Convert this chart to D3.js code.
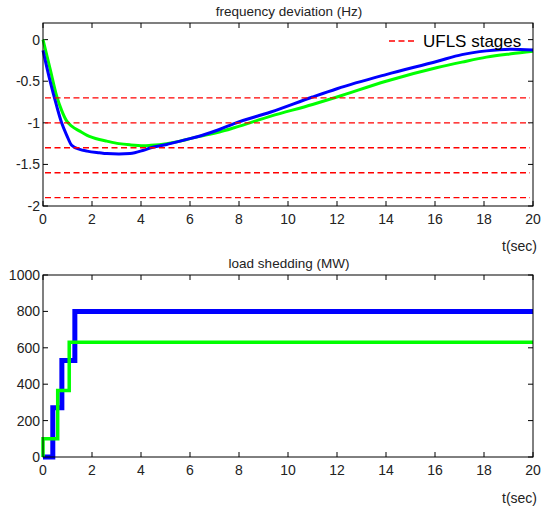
<!DOCTYPE html>
<html>
<head>
<meta charset="utf-8">
<script src="https://cdn.jsdelivr.net/npm/d3@7"></script>
<style>
  body { margin: 0; background: #fff; }
  text { font-family: "Liberation Sans", Arial, sans-serif; fill: #222; }
</style>
</head>
<body>
<div id="chart"></div>
<script>
// frequency deviation (Hz)
const freqTime = [0, 0.29, 0.56, 0.76, 0.97, 1.17, 1.5, 1.8, 2.3, 2.6, 3.1, 3.55, 4.1, 4.4, 5.05, 5.6, 6.0, 6.6, 7.2, 7.8, 9.3, 11.0, 12.0, 14.0, 16.1, 17.1, 18.1, 19.1, 20]
const freqBlue = [-0.13, -0.5, -0.8, -1.0, -1.15, -1.27, -1.32, -1.34, -1.36, -1.37, -1.375, -1.37, -1.33, -1.3, -1.26, -1.22, -1.19, -1.14, -1.08, -1.01, -0.87, -0.69, -0.59, -0.42, -0.26, -0.18, -0.135, -0.115, -0.125]
const freqGreen = [0, -0.35, -0.68, -0.85, -0.98, -1.04, -1.1, -1.15, -1.2, -1.22, -1.25, -1.265, -1.275, -1.27, -1.25, -1.22, -1.19, -1.15, -1.11, -1.06, -0.92, -0.78, -0.69, -0.5, -0.335, -0.27, -0.21, -0.17, -0.14]
const uflsStages = [-0.7, -1.0, -1.3, -1.6, -1.9]

// load shedding (MW), step values
const shedTimeBlue = [0, 0.4, 0.77, 1.3, 20]
const shedBlue = [0, 270, 530, 800, 800]
const shedTimeGreen = [0, 0, 0.6, 1.07, 20]
const shedGreen = [0, 100, 365, 630, 630]

const xTicks = [0, 2, 4, 6, 8, 10, 12, 14, 16, 18, 20]
const freqTicks = [0, -0.5, -1, -1.5, -2]
const shedTicks = [0, 200, 400, 600, 800, 1000]

const blue = "#0000ff"
const green = "#00ff00"
const red = "#ff0000"

const svg = d3.select("#chart").append("svg")
  .attr("width", 544)
  .attr("height", 508)

const left = 43, right = 533

const x = d3.scaleLinear().domain([0, 20]).range([left, right])

function panel(top, bottom, yDomain, yTicks, title, tOffset) {
  const y = d3.scaleLinear().domain(yDomain).range([bottom, top])
  const g = svg.append("g")

  // tick marks inside the box, all four sides
  g.selectAll(".xt").data(xTicks).join("line")
    .attr("x1", d => x(d)).attr("x2", d => x(d))
    .attr("y1", bottom).attr("y2", bottom - 5)
    .attr("stroke", "#000")
  g.selectAll(".xtt").data(xTicks).join("line")
    .attr("x1", d => x(d)).attr("x2", d => x(d))
    .attr("y1", top).attr("y2", top + 5)
    .attr("stroke", "#000")
  g.selectAll(".yt").data(yTicks).join("line")
    .attr("x1", left).attr("x2", left + 5)
    .attr("y1", d => y(d)).attr("y2", d => y(d))
    .attr("stroke", "#000")
  g.selectAll(".ytr").data(yTicks).join("line")
    .attr("x1", right).attr("x2", right - 5)
    .attr("y1", d => y(d)).attr("y2", d => y(d))
    .attr("stroke", "#000")

  // tick labels
  g.selectAll(".xl").data(xTicks).join("text")
    .attr("x", d => x(d)).attr("y", bottom + 18)
    .attr("text-anchor", "middle")
    .style("font-size", "14px")
    .text(d => d)
  g.selectAll(".yl").data(yTicks).join("text")
    .attr("x", left - 3).attr("y", d => y(d) + 5)
    .attr("text-anchor", "end")
    .style("font-size", "14px")
    .text(d => String(d).replace("\u2212", "-"))

  g.append("text")
    .attr("x", (left + right) / 2 + 1).attr("y", top - 7)
    .attr("text-anchor", "middle")
    .style("font-size", "13.5px")
    .text(title)

  g.append("text")
    .attr("x", right + 4).attr("y", bottom + tOffset)
    .attr("text-anchor", "end")
    .style("font-size", "14px")
    .text("t(sec)")

  return { g, y, top, bottom }
}

// top panel
const p1 = panel(23, 206, [-2, 0.2], freqTicks, "frequency deviation (Hz)", 45)

const freqLine = series => d3.line()
  .x((d, i) => x(freqTime[i]))
  .y(d => p1.y(d))
  .curve(d3.curveMonotoneX)(series)

p1.g.append("path").attr("d", freqLine(freqGreen))
  .attr("fill", "none").attr("stroke", green).attr("stroke-width", 3)
p1.g.append("path").attr("d", freqLine(freqBlue))
  .attr("fill", "none").attr("stroke", blue).attr("stroke-width", 3)

// UFLS stage thresholds
p1.g.selectAll(".ufls").data(uflsStages).join("line")
  .attr("x1", x(0) + 2).attr("x2", x(20) - 3)
  .attr("y1", d => p1.y(d)).attr("y2", d => p1.y(d))
  .attr("stroke", red)
  .attr("stroke-width", 1.3)
  .attr("stroke-dasharray", "6,3.5")

// legend
p1.g.append("line")
  .attr("x1", 389).attr("x2", 417)
  .attr("y1", 41).attr("y2", 41)
  .attr("stroke", red).attr("stroke-width", 1.3)
  .attr("stroke-dasharray", "6,3.5")
p1.g.append("text")
  .attr("x", 423).attr("y", 47)
  .style("font-size", "17px")
  .style("fill", "#000")
  .text("UFLS stages")

p1.g.append("rect")
  .attr("x", left).attr("y", p1.top)
  .attr("width", right - left).attr("height", p1.bottom - p1.top)
  .attr("fill", "none").attr("stroke", "#000")

// bottom panel
const p2 = panel(275, 457, [0, 1000], shedTicks, "load shedding (MW)", 46)

const stepLine = (times, vals) => d3.line()
  .x((d, i) => x(times[i]))
  .y(d => p2.y(d))
  .curve(d3.curveStepAfter)(vals)

p2.g.append("path").attr("d", stepLine(shedTimeBlue, shedBlue))
  .attr("fill", "none").attr("stroke", blue).attr("stroke-width", 5)
p2.g.append("path").attr("d", stepLine(shedTimeGreen, shedGreen))
  .attr("fill", "none").attr("stroke", green).attr("stroke-width", 3.5)

p2.g.append("rect")
  .attr("x", left).attr("y", p2.top)
  .attr("width", right - left).attr("height", p2.bottom - p2.top)
  .attr("fill", "none").attr("stroke", "#000")
</script>
</body>
</html>
